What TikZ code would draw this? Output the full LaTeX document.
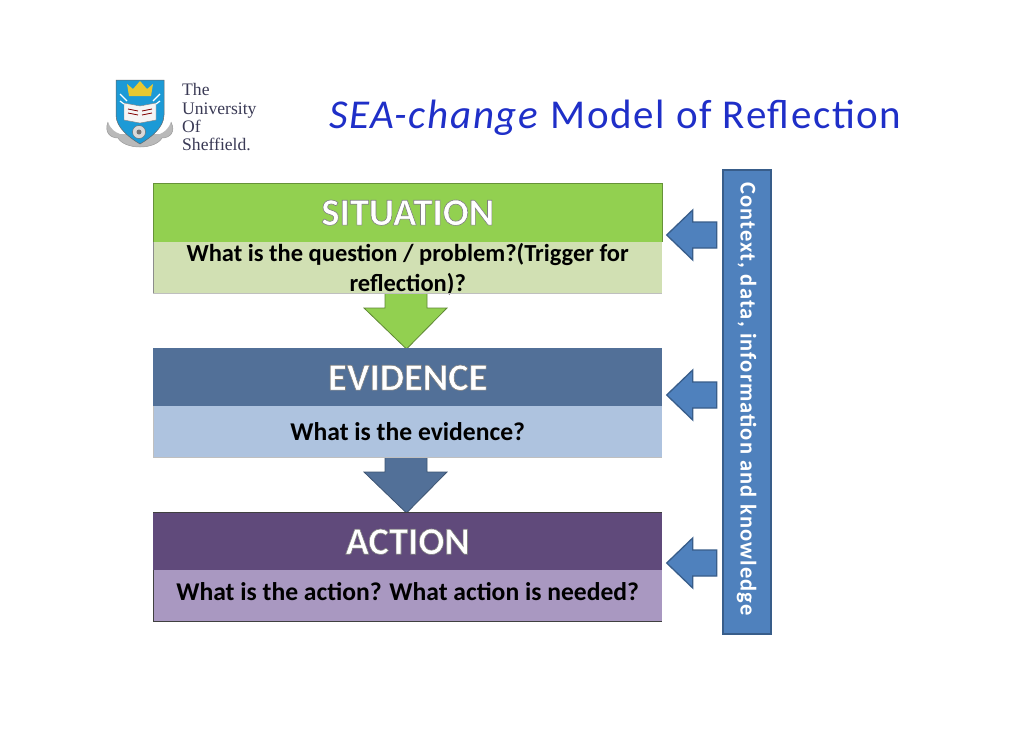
\documentclass[tikz,border=0pt]{standalone}
\usepackage{fontspec}
\setmainfont{Carlito}
\newfontfamily\crestfont{Liberation Serif}
\newfontfamily\titlefont[LetterSpace=4]{Carlito}
\newfontfamily\barfont[LetterSpace=5]{Carlito}
\newcommand{\glowtext}[1]{\special{pdf:code 2 Tr 0.5 0.5 0.5 RG 0.6 w}#1\special{pdf:code 0 Tr}}
\definecolor{titleblue}{HTML}{1F2FC8}
\definecolor{sitdark}{HTML}{92D050}
\definecolor{sitlight}{HTML}{D1E0B3}
\definecolor{evidark}{HTML}{527098}
\definecolor{evilight}{HTML}{AEC3DF}
\definecolor{actdark}{HTML}{604A7B}
\definecolor{actlight}{HTML}{A998C1}
\definecolor{barblue}{HTML}{4F81BD}
\definecolor{barline}{HTML}{385D8A}
\definecolor{crestblue}{HTML}{1C9AD6}
\definecolor{crestgold}{HTML}{E8C830}
\definecolor{cresttext}{HTML}{3A3A55}
\tikzset{
  x=1pt,y=-1pt,
  head/.style={minimum width=509pt,minimum height=59pt,inner sep=0pt,anchor=north west,
    text=white,font=\fontsize{38.5}{38.5}\selectfont\bfseries},
  sub/.style={minimum width=509pt,minimum height=51pt,inner xsep=0pt,inner ysep=-5pt,anchor=north west,align=center,
    text=black,font=\fontsize{25.6}{30}\selectfont\bfseries},
  sidearrow/.style={fill=barblue,draw=barline,line width=1.3pt,line join=miter},
  downarrow/.style={line width=.8pt,line join=miter}
}
\begin{document}
\begin{tikzpicture}
\useasboundingbox (0,0) rectangle (1030,728);
\fill[white] (0,0) rectangle (1030,728);

% title
\node[anchor=west,inner sep=0pt,text=titleblue,font=\titlefont\fontsize{41}{41}\selectfont] (title) at (329,118) {\textit{SEA-change} Model of Reflection};

% logo
\fill[gray!55] (108,122) .. controls (104,132) and (110,138) .. (118,138) .. controls (125,150) and (155,150) .. (162,138) .. controls (170,138) and (176,132) .. (171,122) .. controls (168,130) and (164,132) .. (160,134) -- (120,134) .. controls (115,132) and (111,130) .. (108,122) -- cycle;
\draw[gray!80,line width=.5pt] (108,122) .. controls (104,132) and (110,138) .. (118,138) .. controls (125,150) and (155,150) .. (162,138) .. controls (170,138) and (176,132) .. (171,122);
\fill[crestblue,draw=black!60,line width=.5pt] (116,80) -- (164,80) -- (164,115) .. controls (164,128) and (150,138) .. (140,144) .. controls (130,138) and (116,128) .. (116,115) -- cycle;
\fill[crestgold] (129,96) -- (127,84) -- (133,89) -- (140,81) -- (147,89) -- (153,84) -- (151,96) -- cycle;
\fill[white!92!gray,draw=gray,line width=.4pt] (124,103) -- (140,106) -- (156,103) -- (156,120) -- (140,123) -- (124,120) -- cycle;
\draw[red!50!black,line width=.8pt] (128,109) -- (138,111) (142,111) -- (152,109) (128,113) -- (138,115) (142,115) -- (152,113);
\draw[white,line width=1.2pt] (120,94) -- (127,101) (160,94) -- (153,101) (120,101) -- (124,104) (160,101) -- (156,104);
\fill[gray!30,draw=black!60,line width=.4pt] (139,132) circle (6.5);
\fill[black!55] (139,132) circle (2.5);

\node[anchor=north west,inner sep=0pt,align=left,text=cresttext,font=\crestfont\fontsize{17.6}{18.2}\selectfont] (crestname) at (182,83.5) {The\\University\\Of\\Sheffield.};

% down arrows
\draw[downarrow,fill=sitdark,draw=sitdark!65!black] (385,290) -- (385,308) -- (364,308) -- (406.5,349) -- (447,308) -- (427,308) -- (427,290) -- cycle;
\draw[downarrow,fill=evidark,draw=evidark!75!black] (385,455) -- (385,472) -- (364,472) -- (406.5,513) -- (447,472) -- (427,472) -- (427,455) -- cycle;

% stacked boxes
\node[head,fill=sitdark] (sit) at (153,183) {\glowtext{SITUATION}};
\node[sub,fill=sitlight,font=\fontsize{24.5}{30}\selectfont\bfseries] (sitq) at (153,242) {\rule{0pt}{22pt}What is the question / problem?(Trigger for\\reflection)?};
\node[head,fill=evidark] (evi) at (153,348) {\glowtext{EVIDENCE}};
\node[sub,fill=evilight] (eviq) at (153,406) {What is the evidence?};
\node[head,fill=actdark] (act) at (153,512) {\glowtext{ACTION}};
\node[sub,fill=actlight] (actq) at (153,570) {What is the action? What action is needed?\rule[-8pt]{0pt}{1pt}};
\draw[sitdark!70!black,line width=.5pt] (sit.south west) -- (sit.north west) -- (sit.north east) -- (sit.south east);
\draw[black!75,line width=1pt] (act.north west) -- (act.north east);
\draw[black!75,line width=1pt] (actq.north west) -- (actq.south west) -- (actq.south east);
\draw[black!45,line width=.6pt] (sitq.north west) -- (sitq.south west);
\draw[black!25,line width=.8pt] (sitq.south west) -- (sitq.south east);
\draw[black!25,line width=.6pt] (eviq.north west) -- (eviq.south west) -- (eviq.south east);

% side bar
\node[minimum width=48pt,minimum height=464pt,inner sep=0pt,fill=barblue,draw=barline,line width=1.5pt,anchor=north west] (bar) at (722,169) {};
\node[rotate=-90,text=white,font=\barfont\fontsize{22.5}{22.5}\selectfont\bfseries,inner sep=0pt] (bartext) at (746.5,399) {Context, data, information and knowledge};

% side arrows
\foreach \n/\y in {a/235,b/395,c/563}{
  \draw[sidearrow] (666.7,\y) -- (692.7,\y-25) -- (692.7,\y-13) -- (716.7,\y-13) -- (716.7,\y+13) -- (692.7,\y+13) -- (692.7,\y+25) -- cycle;
}
\end{tikzpicture}
\end{document}
